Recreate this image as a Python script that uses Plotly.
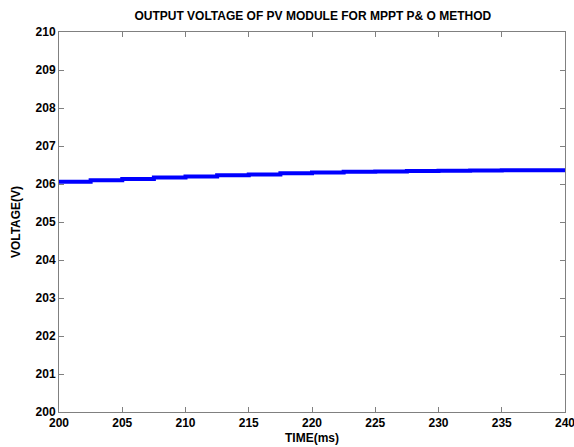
import plotly.graph_objects as go

time_ms = [200, 202.5, 205, 207.5, 210, 212.5, 215, 217.5, 220, 222.5, 225, 227.5, 230, 232.5, 235, 237.5, 240]
voltage = [206.06, 206.10, 206.13, 206.17, 206.20, 206.23, 206.25, 206.28, 206.30, 206.32, 206.33, 206.34, 206.35, 206.355, 206.36, 206.36, 206.36]

x_ticks = [200, 205, 210, 215, 220, 225, 230, 235, 240]
y_ticks = [200, 201, 202, 203, 204, 205, 206, 207, 208, 209, 210]

fig = go.Figure()
fig.add_trace(go.Scatter(x=time_ms, y=voltage, mode="lines",
                         line=dict(color="#0000ff", width=4, shape="hv"),
                         showlegend=False))

font = dict(family="Liberation Sans, Arial, sans-serif", size=12, color="#000000")
axis_common = dict(showgrid=False, zeroline=False, showline=True, linecolor="#808080",
                   linewidth=1, mirror="ticks", ticks="inside", ticklen=5,
                   tickcolor="#808080", ticklabeloverflow="allow", automargin=False,
                   tickfont=dict(family="Liberation Sans, Arial, sans-serif", size=12, color="#000"))

fig.update_layout(
    width=574, height=447,
    margin=dict(l=59, r=9, t=32, b=35),
    paper_bgcolor="white", plot_bgcolor="white",
    font=font,
    title=dict(text="<b>OUTPUT VOLTAGE OF PV MODULE FOR MPPT P& O METHOD</b>",
               x=0.545, xanchor="center", y=0.965, yanchor="middle",
               font=dict(size=12, family="Liberation Sans, Arial, sans-serif")),
    xaxis=dict(range=[200, 240], tickvals=x_ticks, ticktext=[f"<b>{v}</b>" for v in x_ticks],
               title=dict(text="<b>TIME(ms)</b>", standoff=4, font=dict(size=12)), **axis_common),
    yaxis=dict(range=[200, 210], tickvals=y_ticks, ticktext=[f"<b>{v}</b>" for v in y_ticks],
               title=dict(text="<b>VOLTAGE(V)</b>", standoff=12, font=dict(size=12)), **axis_common),
)

fig.write_html("out.html")
